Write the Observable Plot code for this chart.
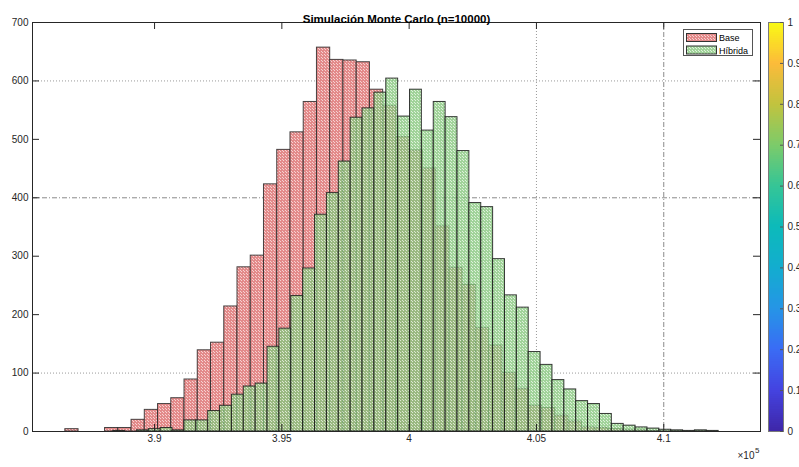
<!DOCTYPE html>
<html><head><meta charset="utf-8">
<script src="https://cdn.jsdelivr.net/npm/d3@7"></script>
<script src="https://cdn.jsdelivr.net/npm/@observablehq/plot@0.6"></script>
<style>
html,body{margin:0;padding:0;background:#fff;overflow:hidden;}
#wrap{position:relative;width:799px;height:467px;overflow:hidden;font-family:"Liberation Sans",Arial,Helvetica,sans-serif;}
#wrap > svg, #wrap > div{position:absolute;top:0;}
</style></head><body>
<svg width="4" height="4" style="position:absolute;left:-10px;top:-10px">
<defs>
<pattern id="hatchRed" x="0" y="0" width="3" height="3" patternUnits="userSpaceOnUse">
<rect x="0" y="0" width="3" height="3" fill="#e38a8a"/>
<rect x="0" y="0" width="1" height="1" fill="#f6d2d2"/>
<rect x="1" y="1" width="1" height="1" fill="#f6d2d2"/>
</pattern>
<pattern id="hatchGreen" x="0" y="0" width="3" height="3" patternUnits="userSpaceOnUse">
<rect x="0" y="0" width="3" height="3" fill="#86c67e"/>
<rect x="0" y="0" width="1" height="1" fill="#d6eed2"/>
<rect x="1" y="1" width="1" height="1" fill="#d6eed2"/>
</pattern>
</defs></svg>
<div id="wrap"></div>
<script>
const title = "Simulación Monte Carlo (n=10000)";
const seriesNames = ["Base", "Híbrida"];

// Base (red) histogram: first bin edge, bin width, counts
const baseStart = 386495;
const baseWidth = 520.2;
const baseCounts = [4, 0, 0, 6, 6, 20, 37, 47, 57, 89, 139, 152, 214, 281, 301, 423, 482, 512, 564, 657,
  636, 635, 632, 585, 557, 504, 481, 450, 351, 280, 251, 177, 147, 100, 73, 44, 40, 27, 17, 7,
  6, 4, 2, 2, 1];

// Híbrida (green) histogram
const hibStart = 388376;
const hibWidth = 466.3;
const hibCounts = [1, 0, 2, 4, 6, 2, 19, 19, 35, 44, 63, 77, 82, 145, 176, 232, 279, 371, 408, 462,
  537, 553, 580, 604, 539, 585, 515, 564, 538, 480, 391, 384, 295, 233, 212, 136, 114, 88, 72, 52,
  47, 30, 13, 10, 7, 5, 3, 2, 1, 2, 1];

const xDomain = [385206, 413800];
const yDomain = [0, 700];
const xTicks = [390000, 395000, 400000, 405000, 410000];
const xTickLabels = ["3.9", "3.95", "4", "4.05", "4.1"];
const yTicks = [0, 100, 200, 300, 400, 500, 600, 700];
const yGridDotted = [100, 600];
const yGridDashed = [400];
const xGridDotted = [405000];
const xGridDashed = [410000];
const cbTicks = [0, 0.1, 0.2, 0.3, 0.4, 0.5, 0.6, 0.7, 0.8, 0.9, 1];
const cbTickLabels = ["0", "0.1", "0.2", "0.3", "0.4", "0.5", "0.6", "0.7", "0.8", "0.9", "1"];
const parula = ["#3e26a8", "#4443e0", "#3a6cf5", "#2595e6", "#13adcf", "#0cbaba", "#35c596", "#7ccb6a", "#c2c33e", "#fcbb3a", "#f9fb14"];

const baseData = baseCounts.map((c, i) => ({x1: baseStart + i * baseWidth, x2: baseStart + (i + 1) * baseWidth, count: c}));
const hibData = hibCounts.map((c, i) => ({x1: hibStart + i * hibWidth, x2: hibStart + (i + 1) * hibWidth, count: c}));

const W = 799, H = 467, mL = 32, mR = 39, mT = 22, mB = 36;
const frameH = H - mT - mB, frameW = W - mL - mR;
const tickLen = 7;
const axisColor = "#262626";
const font = "'Liberation Sans', Arial, Helvetica, sans-serif";
const redFill = "url(#hatchRed)";
const greenFill = "url(#hatchGreen)";
const greenOpacity = 0.78;

const main = Plot.plot({
  width: W, height: H,
  marginLeft: mL, marginRight: mR, marginTop: mT, marginBottom: mB,
  style: {fontFamily: font, fontSize: "10px", color: axisColor, background: "transparent"},
  x: {domain: xDomain, axis: null},
  y: {domain: yDomain, axis: null},
  marks: [
    Plot.ruleY(yGridDotted, {y: d => d, stroke: "#9a9a9a", strokeDasharray: "1,2", strokeWidth: 1}),
    Plot.ruleY(yGridDashed, {y: d => d, stroke: "#8a8a8a", strokeDasharray: "5,2,1,2", strokeWidth: 1}),
    Plot.ruleX(xGridDotted, {x: d => d, stroke: "#9a9a9a", strokeDasharray: "1,2", strokeWidth: 1}),
    Plot.ruleX(xGridDashed, {x: d => d, stroke: "#8a8a8a", strokeDasharray: "5,2,1,2", strokeWidth: 1}),
    Plot.rect(baseData, {x1: "x1", x2: "x2", y1: 0, y2: "count", fill: redFill, stroke: "#2a2a2a", strokeWidth: 1, strokeOpacity: 0.85}),
    Plot.rect(hibData, {x1: "x1", x2: "x2", y1: 0, y2: "count", fill: greenFill, fillOpacity: greenOpacity, stroke: "#1a1a1a", strokeWidth: 1, strokeOpacity: 0.85}),
    Plot.frame({stroke: axisColor, strokeWidth: 1}),
    Plot.tickX(xTicks, {x: d => d, insetTop: frameH - tickLen, stroke: axisColor}),
    Plot.tickX(xTicks, {x: d => d, insetBottom: frameH - tickLen, stroke: axisColor}),
    Plot.tickY(yTicks, {y: d => d, insetRight: frameW - tickLen, stroke: axisColor}),
    Plot.tickY(yTicks, {y: d => d, insetLeft: frameW - tickLen, stroke: axisColor}),
    Plot.text(xTicks, {x: d => d, text: (d, i) => xTickLabels[i], frameAnchor: "bottom", dy: 10, fill: axisColor, fontSize: 10}),
    Plot.text(yTicks, {y: d => d, text: d => String(d), frameAnchor: "left", dx: -4, textAnchor: "end", fill: axisColor, fontSize: 10}),
    Plot.text(["\u00d710"], {frameAnchor: "bottom-right", dx: -6, dy: 27, textAnchor: "end", fill: axisColor, fontSize: 10}),
    Plot.text(["5"], {frameAnchor: "bottom-right", dx: -1, dy: 21, textAnchor: "end", fill: axisColor, fontSize: 8}),
    Plot.text([title], {frameAnchor: "top", dy: -8, fontWeight: "bold", fontSize: 11.5, fill: "#000"})
  ]
});
main.style.left = "0px";

const cbData = d3.range(200).map(i => ({y1: i / 200, y2: (i + 1) / 200, v: (i + 0.5) / 200}));
const cb = Plot.plot({
  width: 31, height: H,
  marginLeft: 0, marginRight: 16, marginTop: mT, marginBottom: mB,
  style: {fontFamily: font, fontSize: "10px", color: axisColor, background: "transparent", overflow: "visible"},
  x: {domain: [0, 1], axis: null},
  y: {domain: [0, 1], axis: null},
  color: {type: "linear", domain: parula.map((c, i) => i / (parula.length - 1)), range: parula, interpolate: "rgb"},
  marks: [
    Plot.rect(cbData, {x1: 0, x2: 1, y1: "y1", y2: "y2", fill: "v", shapeRendering: "crispEdges"}),
    Plot.frame({stroke: "#7a7a7a", strokeWidth: 1}),
    Plot.tickY(cbTicks, {y: d => d, insetLeft: 12, stroke: "#555"}),
    Plot.text(cbTicks, {y: d => d, text: (d, i) => cbTickLabels[i], frameAnchor: "right", dx: 4, textAnchor: "start", fill: axisColor, fontSize: 10})
  ]
});
cb.style.left = "768px";

const wrap = document.getElementById("wrap");
wrap.appendChild(main);
wrap.appendChild(cb);

// Legend
const legend = document.createElement("div");
legend.style.cssText = "left:683px;top:29px;width:70px;height:27px;border:1px solid #555;background:#fff;box-sizing:border-box;";
const lsvg = d3.create("svg").attr("width", 70).attr("height", 27).style("position", "absolute").style("left", "-1px").style("top", "-1px");
const fills = [redFill, greenFill];
seriesNames.forEach((name, i) => {
  const yy = 4.5 + i * 12.5;
  lsvg.append("rect").attr("x", 3.5).attr("y", yy).attr("width", 30).attr("height", 8)
    .attr("fill", fills[i]).attr("fill-opacity", i ? greenOpacity : 1).attr("stroke", "#333").attr("stroke-width", 1);
  lsvg.append("text").attr("x", 36).attr("y", yy + 7.5).attr("font-size", 9).attr("font-family", font)
    .attr("fill", "#000").text(name);
});
legend.appendChild(lsvg.node());
wrap.appendChild(legend);
</script>
</body></html>
